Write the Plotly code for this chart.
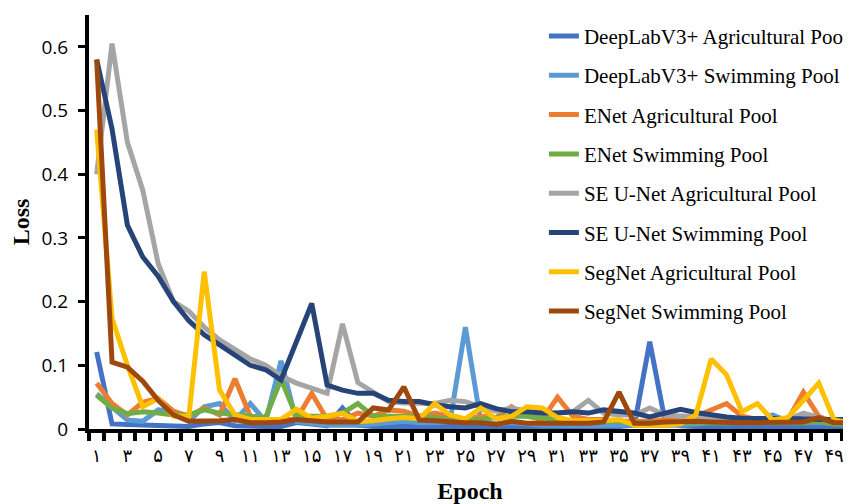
import plotly.graph_objects as go

epochs = list(range(1, 51))
tick_epochs = list(range(1, 50, 2))
tick_labels = ['۱', '۳', '۵', '۷', '۹', '۱۱', '۱۳', '۱۵', '۱۷', '۱۹', '۲۱', '۲۳', '۲۵',
               '۲۷', '۲۹', '۳۱', '۳۳', '۳۵', '۳۷', '۳۹', '۴۱', '۴۳', '۴۵', '۴۷', '۴۹']
y_ticks = [0, 0.1, 0.2, 0.3, 0.4, 0.5, 0.6]

deeplab_agri = [0.121, 0.008, 0.007, 0.006, 0.005, 0.004, 0.004, 0.008, 0.010, 0.005,
                0.004, 0.004, 0.004, 0.010, 0.008, 0.005, 0.033, 0.006, 0.004, 0.004,
                0.004, 0.004, 0.004, 0.004, 0.004, 0.004, 0.004, 0.004, 0.004, 0.004,
                0.004, 0.004, 0.004, 0.004, 0.004, 0.006, 0.137, 0.012, 0.005, 0.004,
                0.004, 0.004, 0.004, 0.004, 0.004, 0.004, 0.004, 0.004, 0.004, 0.004]
deeplab_swim = [0.055, 0.035, 0.014, 0.012, 0.030, 0.028, 0.012, 0.035, 0.040, 0.013,
                0.040, 0.012, 0.107, 0.012, 0.008, 0.006, 0.006, 0.006, 0.008, 0.010,
                0.012, 0.010, 0.010, 0.012, 0.160, 0.012, 0.008, 0.010, 0.008, 0.006,
                0.006, 0.005, 0.005, 0.006, 0.006, 0.006, 0.006, 0.006, 0.006, 0.008,
                0.010, 0.010, 0.012, 0.012, 0.022, 0.012, 0.010, 0.010, 0.008, 0.008]
enet_agri = [0.072, 0.040, 0.022, 0.042, 0.048, 0.028, 0.020, 0.033, 0.022, 0.079,
             0.020, 0.015, 0.015, 0.015, 0.056, 0.015, 0.015, 0.025, 0.020, 0.030,
             0.028, 0.020, 0.025, 0.020, 0.015, 0.020, 0.018, 0.035, 0.020, 0.015,
             0.050, 0.020, 0.015, 0.015, 0.012, 0.012, 0.012, 0.015, 0.020, 0.020,
             0.030, 0.040, 0.020, 0.015, 0.015, 0.015, 0.058, 0.020, 0.010, 0.010]
enet_swim = [0.053, 0.033, 0.024, 0.027, 0.025, 0.022, 0.022, 0.030, 0.025, 0.022,
             0.020, 0.018, 0.078, 0.020, 0.020, 0.020, 0.025, 0.040, 0.020, 0.020,
             0.020, 0.020, 0.018, 0.015, 0.015, 0.015, 0.018, 0.020, 0.020, 0.018,
             0.015, 0.012, 0.012, 0.012, 0.012, 0.010, 0.010, 0.010, 0.010, 0.010,
             0.010, 0.010, 0.010, 0.010, 0.010, 0.010, 0.010, 0.012, 0.008, 0.008]
seunet_agri = [0.400, 0.605, 0.450, 0.375, 0.260, 0.200, 0.185, 0.160, 0.140, 0.125,
               0.110, 0.100, 0.083, 0.072, 0.065, 0.056, 0.165, 0.073, 0.058, 0.043,
               0.041, 0.040, 0.040, 0.045, 0.043, 0.035, 0.028, 0.033, 0.028, 0.026,
               0.025, 0.027, 0.045, 0.025, 0.022, 0.022, 0.033, 0.022, 0.020, 0.018,
               0.016, 0.015, 0.015, 0.015, 0.015, 0.015, 0.025, 0.018, 0.012, 0.012]
seunet_swim = [0.580, 0.471, 0.320, 0.270, 0.240, 0.200, 0.170, 0.148, 0.132, 0.116,
               0.100, 0.093, 0.077, 0.137, 0.197, 0.069, 0.061, 0.056, 0.056, 0.045,
               0.043, 0.043, 0.038, 0.035, 0.033, 0.040, 0.032, 0.027, 0.027, 0.025,
               0.025, 0.027, 0.025, 0.030, 0.027, 0.025, 0.019, 0.025, 0.031, 0.026,
               0.022, 0.019, 0.017, 0.017, 0.016, 0.016, 0.016, 0.015, 0.015, 0.015]
segnet_agri = [0.470, 0.174, 0.100, 0.035, 0.048, 0.020, 0.020, 0.247, 0.061, 0.022,
               0.015, 0.015, 0.015, 0.031, 0.017, 0.020, 0.025, 0.012, 0.013, 0.016,
               0.018, 0.016, 0.040, 0.022, 0.016, 0.033, 0.016, 0.020, 0.035, 0.033,
               0.018, 0.013, 0.013, 0.013, 0.015, 0.006, 0.006, 0.006, 0.008, 0.022,
               0.110, 0.085, 0.027, 0.040, 0.014, 0.018, 0.045, 0.072, 0.014, 0.010]
segnet_swim = [0.580, 0.105, 0.097, 0.075, 0.045, 0.022, 0.012, 0.012, 0.013, 0.015,
               0.010, 0.010, 0.011, 0.015, 0.013, 0.011, 0.011, 0.011, 0.033, 0.030,
               0.066, 0.014, 0.013, 0.011, 0.010, 0.010, 0.007, 0.012, 0.009, 0.009,
               0.009, 0.009, 0.009, 0.011, 0.058, 0.009, 0.009, 0.011, 0.012, 0.012,
               0.011, 0.010, 0.010, 0.010, 0.010, 0.010, 0.011, 0.018, 0.010, 0.010]

names = ['DeepLabV3+ Agricultural Pool', 'DeepLabV3+ Swimming Pool',
         'ENet Agricultural Pool', 'ENet Swimming Pool',
         'SE U-Net Agricultural Pool', 'SE U-Net Swimming Pool',
         'SegNet Agricultural Pool', 'SegNet Swimming Pool']
colors = ['#4472C4', '#5B9BD5', '#ED7D31', '#70AD47',
          '#A5A5A5', '#264478', '#FFC000', '#9E480E']
series = [deeplab_agri, deeplab_swim, enet_agri, enet_swim,
          seunet_agri, seunet_swim, segnet_agri, segnet_swim]

fig = go.Figure()
for name, color, vals in zip(names, colors, series):
    fig.add_trace(go.Scatter(
        x=epochs, y=vals, mode='lines', name=name, legendgroup=name,
        line=dict(color=color, width=5),
    ))

fig.update_layout(
    width=843, height=496,
    margin=dict(l=81, r=0, t=7, b=75, autoexpand=False),
    plot_bgcolor='white', paper_bgcolor='white',
    legend=dict(
        x=0.597, y=0.998, xanchor='left', yanchor='top',
        font=dict(family='Liberation Serif', size=21, color='black'),
        tracegroupgap=9, bgcolor='rgba(0,0,0,0)',
    ),
)

fig.update_xaxes(
    range=[0.5, 50.1], tickmode='array', tickvals=tick_epochs, ticktext=tick_labels,
    ticks='', showline=True, linewidth=4, linecolor='black',
    showgrid=False, zeroline=False, ticklabelstandoff=7,
    tickfont=dict(family='DejaVu Sans', size=18, color='black'),
    minor=dict(tickmode='array', tickvals=[e - 0.5 for e in epochs],
               ticks='outside', ticklen=8, tickwidth=4, tickcolor='black',
               showgrid=False),
    title=dict(text='<b>Epoch</b>', standoff=22,
               font=dict(family='Liberation Serif', size=24, color='black')),
)
fig.update_yaxes(
    range=[0, 0.65], tickmode='array', tickvals=y_ticks,
    ticks='outside', ticklen=7, tickwidth=3, tickcolor='black',
    showline=True, linewidth=4, linecolor='black',
    showgrid=False, zeroline=False, ticklabelstandoff=6,
    tickfont=dict(family='Open Sans', size=19, color='black'),
    title=dict(text='<b>Loss</b>', standoff=10,
               font=dict(family='Liberation Serif', size=24, color='black')),
)

fig.write_html('out.html')
